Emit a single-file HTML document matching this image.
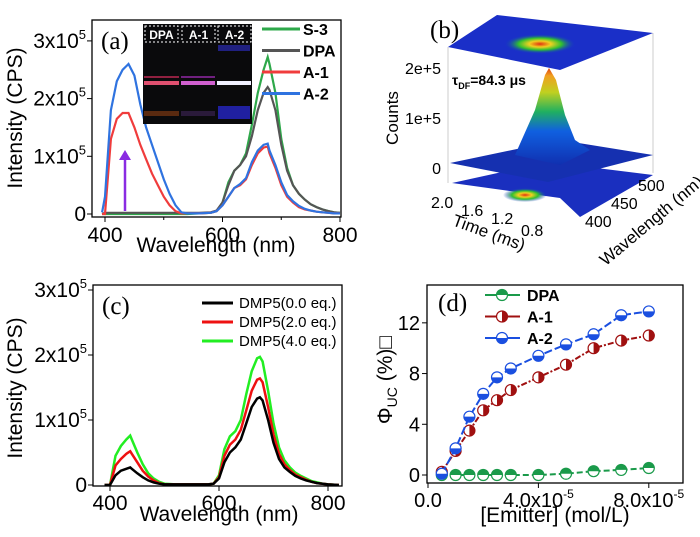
<!DOCTYPE html>
<html><head><meta charset="utf-8"><style>
body{margin:0;background:#fff}
svg{display:block;font-family:"Liberation Sans",sans-serif}
</style></head><body>
<svg id="fig" width="700" height="537" viewBox="0 0 700 537">
<defs>
<radialGradient id="hot" cx="50%" cy="50%" r="50%">
<stop offset="0" stop-color="#e03010"/><stop offset="0.3" stop-color="#f0d020"/><stop offset="0.6" stop-color="#30c030"/><stop offset="1" stop-color="#1030d0" stop-opacity="0"/></radialGradient>
<linearGradient id="peakg" x1="0" y1="1" x2="0" y2="0">
<stop offset="0" stop-color="#1030b0"/><stop offset="0.35" stop-color="#1060e0"/><stop offset="0.55" stop-color="#20b060"/><stop offset="0.75" stop-color="#c0d020"/><stop offset="0.92" stop-color="#f0a020"/><stop offset="1" stop-color="#e04010"/></linearGradient>
</defs>
<g id="pa"></g>
<g id="pb">
<line x1="448" y1="47" x2="448" y2="183" stroke="#ccc"/><line x1="653" y1="33" x2="653" y2="173" stroke="#ccc"/>
<polygon points="452,183 560,198 580,217 653,175 548,162" fill="#1a2fbf"/>
<ellipse cx="525" cy="195" rx="22" ry="7" fill="url(#hot)"/>
<polygon points="450,163 548,182 653,155 560,140" fill="#1530b0"/>
<polygon points="515,155 535,110 545,75 549,68 556,80 565,115 575,140 590,150 560,165" fill="url(#peakg)"/>
<polygon points="448,47 497,15 653,33 560,70" fill="#1a2fc8"/>
<ellipse cx="540" cy="44" rx="36" ry="10" fill="url(#hot)"/>
<text x="430" y="38" font-family="Liberation Serif,serif" font-size="25">(b)</text>
<text x="441" y="74" font-size="16" text-anchor="end">2e+5</text>
<text x="441" y="124" font-size="16" text-anchor="end">1e+5</text>
<text x="441" y="174" font-size="16" text-anchor="end">0</text>
<text transform="translate(398,118) rotate(-90)" font-size="17" text-anchor="middle">Counts</text>
<text x="452" y="85" font-size="14" font-weight="bold">τ<tspan font-size="9" dy="4">DF</tspan><tspan dy="-4">=84.3 μs</tspan></text>
<g font-size="16"><text x="431" y="208">2.0</text><text x="461" y="216">1.6</text><text x="491" y="224">1.2</text><text x="521" y="236">0.8</text></g>
<text transform="translate(487,238) rotate(20)" font-size="17" text-anchor="middle">Time (ms)</text>
<g font-size="16"><text x="585" y="227">400</text><text x="611" y="209">450</text><text x="638" y="191">500</text></g>
<text transform="translate(655,225) rotate(-40)" font-size="17" text-anchor="middle">Wavelength (nm)</text>
</g>
<g id="pc"></g>
<g id="pd"></g>
</svg>
<script>
const NS="http://www.w3.org/2000/svg";
// ---- panel (a) data (intensity in 1e5 CPS) ----
const aWl=[395,400,410,420,430,440,450,460,470,480,490,500,510,520,530,540,560,580,590,600,610,620,630,640,650,660,670,677,680,690,700,710,720,730,740,750,760,770,780,790,800];
const aS3=[0,0,0,0,0,0,0,0,0,0,0,0,0,0,0,0,0.01,0.02,0.05,0.2,0.55,0.75,0.85,1.05,1.55,2.1,2.5,2.72,2.6,2.1,1.3,0.8,0.5,0.35,0.25,0.17,0.12,0.08,0.05,0.03,0.02];
const aDPA=[0,0.02,0.02,0.02,0.02,0.02,0.02,0.02,0.02,0.02,0.02,0.02,0.02,0.02,0.02,0.02,0.02,0.03,0.06,0.2,0.5,0.75,0.85,1.0,1.35,1.8,2.1,2.2,2.15,1.8,1.2,0.75,0.5,0.35,0.25,0.17,0.12,0.08,0.05,0.03,0.02];
const aA1=[0,0,1.3,1.65,1.75,1.75,1.5,1.2,0.95,0.7,0.5,0.3,0.15,0.05,0.01,0.01,0.01,0.02,0.05,0.15,0.3,0.45,0.5,0.6,0.85,1.05,1.15,1.17,1.05,0.8,0.5,0.3,0.2,0.12,0.08,0.06,0.04,0.03,0.02,0.01,0.01];
const aA2=[0.03,0.3,1.8,2.3,2.5,2.6,2.4,1.9,1.5,1.2,0.9,0.6,0.35,0.15,0.03,0.01,0.01,0.02,0.05,0.15,0.3,0.45,0.52,0.62,0.9,1.1,1.2,1.22,1.1,0.85,0.55,0.33,0.22,0.14,0.09,0.06,0.04,0.03,0.02,0.01,0.01];
const aXTicks=[400,600,800];const aYTicks=[0,1,2,3];
// ---- panel (c) data ----
const cWl=[390,400,410,420,430,437,440,450,460,470,480,490,500,520,550,580,590,600,610,620,630,640,650,660,670,675,680,690,700,710,720,730,740,750,760,770,780,790,800,820];
const c0=[0,0,0.15,0.22,0.25,0.27,0.25,0.18,0.12,0.07,0.04,0.02,0.01,0.01,0.01,0.01,0.02,0.1,0.35,0.5,0.58,0.7,0.95,1.2,1.33,1.35,1.3,1.0,0.65,0.4,0.27,0.2,0.14,0.1,0.07,0.05,0.03,0.02,0.01,0];
const c2=[0,0,0.3,0.4,0.48,0.52,0.48,0.35,0.22,0.13,0.07,0.03,0.01,0.01,0.01,0.01,0.02,0.12,0.45,0.62,0.7,0.85,1.15,1.45,1.62,1.64,1.58,1.2,0.78,0.48,0.32,0.23,0.16,0.12,0.08,0.05,0.03,0.02,0.01,0];
const c4=[0,0,0.45,0.6,0.7,0.76,0.7,0.5,0.32,0.18,0.1,0.05,0.02,0.01,0.01,0.01,0.02,0.15,0.55,0.75,0.83,1.0,1.4,1.75,1.95,1.97,1.9,1.45,0.95,0.58,0.38,0.27,0.19,0.14,0.1,0.06,0.04,0.02,0.01,0];
const cXTicks=[400,600,800];const cYTicks=[0,1,2,3];
// ---- panel (d) data ----
const dX=[0.5,1,1.5,2,2.5,3,4,5,6,7,8];
const dDPA=[0,0,0,0,0,0,0,0.1,0.3,0.4,0.55];
const dA1=[0.25,1.9,3.5,5.1,5.9,6.7,7.7,8.7,10.0,10.6,11.0];
const dA2=[0.1,2.1,4.6,6.4,7.7,8.4,9.4,10.3,11.1,12.6,12.9];
const dXTicks=[0,4,8];const dYTicks=[0,4,8,12];

function el(parent,tag,attrs,text){const e=document.createElementNS(NS,tag);for(const k in attrs)e.setAttribute(k,attrs[k]);if(text!==undefined)e.textContent=text;parent.appendChild(e);return e;}
function path(xs,ys,fx,fy){return xs.map((x,i)=>(i?'L':'M')+fx(x).toFixed(1)+','+fy(ys[i]).toFixed(1)).join('');}

// ===== Panel A =====
(function(){
const g=document.getElementById('pa');
const L=92,R=341,T=20,B=217;
const fx=v=>105+(v-400)*(235/400), fy=v=>214-v*57.7;
const cp=el(g,'clipPath',{id:'cpa'});el(cp,'rect',{x:L,y:T,width:R-L,height:B-T});
const series=[[aS3,'#2ea84a','s-3'],[aDPA,'#555555','dpa'],[aA1,'#f03c3c','a-1'],[aA2,'#2f73e0','a-2']];
series.forEach(s=>{const p=el(g,'path',{d:path(aWl,s[0],fx,fy),fill:'none',stroke:s[1],'stroke-width':2.2,'clip-path':'url(#cpa)'});

});
el(g,'rect',{x:L,y:T,width:R-L,height:B-T,fill:'none',stroke:'#000','stroke-width':1.3});
aXTicks.forEach(t=>{const x=fx(t);el(g,'line',{x1:x,y1:B,x2:x,y2:B+5,stroke:'#000'});
const tx=el(g,'text',{x:x,y:B+25,'font-size':21,'text-anchor':'middle'},String(t));

});
[500,700].forEach(t=>el(g,'line',{x1:fx(t),y1:B,x2:fx(t),y2:B+3,stroke:'#000'}));
aYTicks.forEach(t=>{const y=fy(t);el(g,'line',{x1:L-5,y1:y,x2:L,y2:y,stroke:'#000'});
const tx=el(g,'text',{x:L-6,y:y+7,'font-size':21,'text-anchor':'end'});
if(t===0)tx.textContent='0';else{tx.textContent=t+'x10';el(tx,'tspan',{'font-size':13,dy:-9},'5');}

});
const xt=el(g,'text',{x:216,y:252,'font-size':21,'text-anchor':'middle'},'Wavelength (nm)');


const yt=el(g,'text',{transform:'translate(22,118) rotate(-90)','font-size':21,'text-anchor':'middle'},'Intensity (CPS)');


const lb=el(g,'text',{x:101,y:49,'font-size':25,'font-family':'Liberation Serif,serif'},'(a)');


el(g,'line',{x1:125,y1:211,x2:125,y2:158,stroke:'#8a2be2','stroke-width':2.5});
el(g,'polygon',{points:'119,160 131,160 125,150',fill:'#8a2be2'});
const ins=el(g,'g',{});
el(ins,'rect',{x:143,y:24,width:109,height:100,fill:'#0a0a0c'});
el(ins,'rect',{x:144,y:81,width:35,height:4,fill:'#e05070'});el(ins,'rect',{x:181,y:81,width:34,height:4,fill:'#d060d0'});el(ins,'rect',{x:217,y:81,width:34,height:4,fill:'#f0f0ff'});
el(ins,'rect',{x:144,y:76,width:35,height:2,fill:'#902040'});el(ins,'rect',{x:181,y:76,width:34,height:2,fill:'#702080'});
el(ins,'rect',{x:144,y:111,width:35,height:5,fill:'#5a2a10'});el(ins,'rect',{x:181,y:111,width:34,height:5,fill:'#2a1a3a'});el(ins,'rect',{x:218,y:106,width:32,height:13,fill:'#2020a0'});
el(ins,'rect',{x:218,y:45,width:32,height:6,fill:'#202080'});
[['DPA',145],['A-1',182],['A-2',218]].forEach(v=>{el(ins,'rect',{x:v[1],y:26,width:33,height:16,fill:'none',stroke:'#fff','stroke-dasharray':'2,2'});
el(ins,'text',{x:v[1]+16.5,y:39,'font-size':12,'font-weight':'bold',fill:'#fff','text-anchor':'middle'},v[0]);});
const names=['S-3','DPA','A-1','A-2'];
series.forEach((s,i)=>{const y=29+i*21.5;const lg=el(g,'g',{});


el(lg,'line',{x1:262,y1:y,x2:300,y2:y,stroke:s[1],'stroke-width':3});
el(lg,'text',{x:303,y:y+6,'font-size':16,'font-weight':'bold'},names[i]);});
})();

// ===== Panel C =====
(function(){
const g=document.getElementById('pc');
const L=93,R=342,T=285,B=486;
const fx=v=>110+(v-400)*(109/200), fy=v=>485-v*65;
const cp=el(g,'clipPath',{id:'cpc'});el(cp,'rect',{x:L,y:T,width:R-L,height:B-T});
const series=[[c4,'#22ee22','4.0'],[c2,'#ee1111','2.0'],[c0,'#000000','0.0']];
series.forEach(s=>{const p=el(g,'path',{d:path(cWl,s[0],fx,fy),fill:'none',stroke:s[1],'stroke-width':2.5,'clip-path':'url(#cpc)'});

});
el(g,'rect',{x:L,y:T,width:R-L,height:B-T,fill:'none',stroke:'#000','stroke-width':1.3});
cXTicks.forEach(t=>{const x=fx(t);el(g,'line',{x1:x,y1:B,x2:x,y2:B+5,stroke:'#000'});
const tx=el(g,'text',{x:x,y:B+24,'font-size':21,'text-anchor':'middle'},String(t));

});
cYTicks.forEach(t=>{const y=fy(t);el(g,'line',{x1:L-5,y1:y,x2:L,y2:y,stroke:'#000'});
const tx=el(g,'text',{x:L-6,y:y+7,'font-size':21,'text-anchor':'end'});
if(t===0)tx.textContent='0';else{tx.textContent=t+'x10';el(tx,'tspan',{'font-size':13,dy:-9},'5');}

});
const xt=el(g,'text',{x:219,y:521,'font-size':21,'text-anchor':'middle'},'Wavelength (nm)');


const yt=el(g,'text',{transform:'translate(22,388) rotate(-90)','font-size':21,'text-anchor':'middle'},'Intensity (CPS)');


const lb=el(g,'text',{x:102,y:314,'font-size':25,'font-family':'Liberation Serif,serif'},'(c)');


[['#000','0.0'],['#ee1111','2.0'],['#22ee22','4.0']].forEach((s,i)=>{const y=303+i*19;const lg=el(g,'g',{});


el(lg,'line',{x1:202,y1:y,x2:233,y2:y,stroke:s[0],'stroke-width':3});
el(lg,'text',{x:239,y:y+5,'font-size':15},'DMP5('+s[1]+' eq.)');});
})();

// ===== Panel D =====
(function(){
const g=document.getElementById('pd');
const L=427,R=683,T=285,B=483;
const fx=v=>428+v*27.6, fy=v=>475-v*12.68;
function marker(p,x,y,c,type){const r=5.5;
el(p,'circle',{cx:x,cy:y,r:r,fill:'#fff',stroke:c,'stroke-width':1.2});
if(type==='top')el(p,'path',{d:`M${x-r},${y}A${r},${r} 0 0 1 ${x+r},${y}Z`,fill:c});
else if(type==='bot')el(p,'path',{d:`M${x+r},${y}A${r},${r} 0 0 1 ${x-r},${y}Z`,fill:c});
else el(p,'path',{d:`M${x},${y-r}A${r},${r} 0 0 1 ${x},${y+r}Z`,fill:c});}
const series=[[dDPA,'#1a9a4a','dpa','top','DPA','6,3'],[dA1,'#a01010','a-1','right','A-1','6,2,2,2'],[dA2,'#1a4fe0','a-2','bot','A-2','8,3']];
series.forEach(s=>{const sg=el(g,'g',{});


el(sg,'path',{d:path(dX,s[0],fx,fy),fill:'none',stroke:s[1],'stroke-width':2,'stroke-dasharray':s[5]});
dX.forEach((x,i)=>{const mg=el(sg,'g',{});


marker(mg,fx(x),fy(s[0][i]),s[1],s[3]);});});
el(g,'rect',{x:L,y:T,width:R-L,height:B-T,fill:'none',stroke:'#000','stroke-width':1.3});
dXTicks.forEach(t=>{const x=fx(t);el(g,'line',{x1:x,y1:B,x2:x,y2:B+5,stroke:'#000'});
const tx=el(g,'text',{x:x,y:B+24,'font-size':20,'text-anchor':'middle'});
if(t===0)tx.textContent='0.0';else{tx.textContent=t+'.0x10';el(tx,'tspan',{'font-size':12,dy:-9},'-5');}

});
dYTicks.forEach(t=>{const y=fy(t);el(g,'line',{x1:L-5,y1:y,x2:L,y2:y,stroke:'#000'});
const tx=el(g,'text',{x:L-7,y:y+7,'font-size':20,'text-anchor':'end'},String(t));

});
const xt=el(g,'text',{x:555,y:522,'font-size':21,'text-anchor':'middle'},'[Emitter] (mol/L)');


const yt=el(g,'text',{transform:'translate(392,380) rotate(-90)','font-size':21,'text-anchor':'middle'});
yt.textContent='Φ';el(yt,'tspan',{'font-size':14,dy:5},'UC');el(yt,'tspan',{dy:-5},' (%)□');


const lb=el(g,'text',{x:438,y:311,'font-size':25,'font-family':'Liberation Serif,serif'},'(d)');


series.forEach((s,i)=>{const y=295+i*21.5;const lg=el(g,'g',{});


el(lg,'line',{x1:485,y1:y,x2:520,y2:y,stroke:s[1],'stroke-width':2});
marker(lg,502,y,s[1],s[3]);
el(lg,'text',{x:527,y:y+6,'font-size':16,'font-weight':'bold'},s[4]);});
})();
</script>
</body></html>
